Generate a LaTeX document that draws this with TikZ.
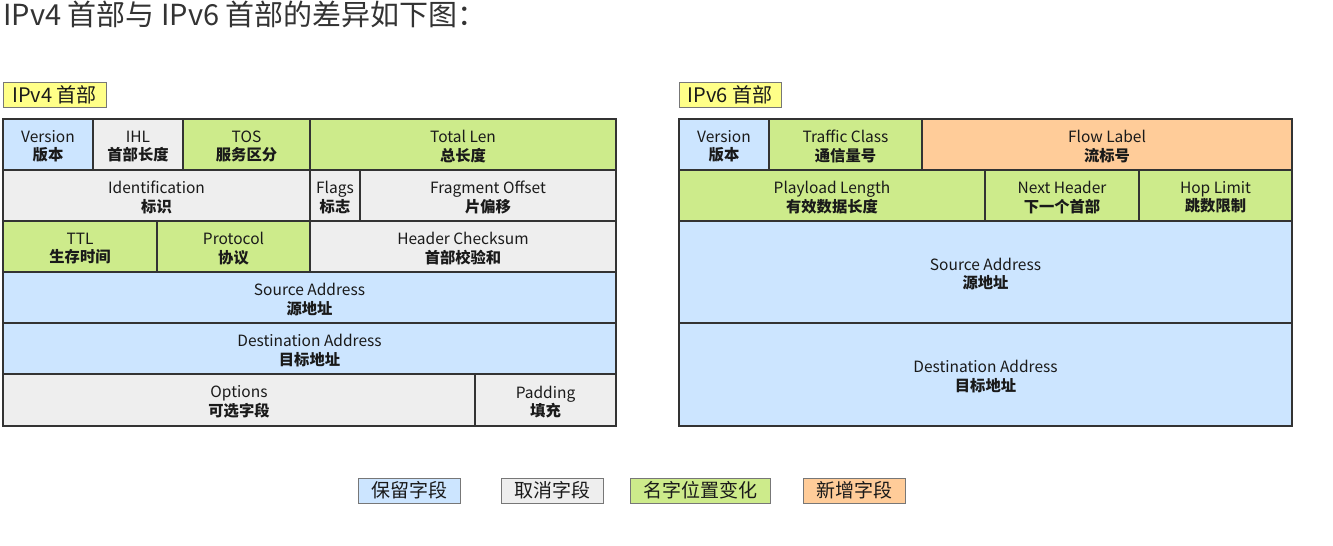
\documentclass[tikz,border=0pt]{standalone}
\usepackage{fontspec}
\setmainfont{Noto Sans CJK SC}
\definecolor{keep}{HTML}{CCE5FF}
\definecolor{drop}{HTML}{EEEEEE}
\definecolor{moved}{HTML}{CDEB8B}
\definecolor{added}{HTML}{FFCC99}
\definecolor{tagfill}{HTML}{FFFF88}
\definecolor{ink}{HTML}{1A1A1A}
\definecolor{edgec}{HTML}{333333}
\definecolor{legc}{HTML}{777777}
\newcommand\fld[8]{%
  \node[fld, fill=#2, minimum width={(#5-#3)*1pt}, minimum height={(#6-#4)*1pt}]
    (#1) at ({(#3+#5)/2},{(#4+#6)/2}) {};
  \node[fldtext] (#1-t) at ([yshift=-2pt]#1.center)
    {{\fontsize{15.5}{18}\selectfont #7}\\{\bfseries #8}};}
\tikzset{
  fld/.style={draw=edgec, line width=1.1pt, inner sep=0pt, outer sep=0pt},
  fldtext/.style={inner sep=0pt, align=center, text=ink,
    font=\fontsize{15.3}{18.5}\selectfont},
  tagbox/.style={draw=legc, line width=1pt, fill=tagfill, inner sep=0pt,
    minimum height=25pt, text=ink, font=\fontsize{20}{20}\selectfont},
  legbox/.style={draw=legc, line width=1pt, inner sep=0pt,
    minimum height=25pt, text=ink, font=\fontsize{19}{19}\selectfont},
}
\begin{document}
\begin{tikzpicture}[x=1pt,y=-1pt]
\useasboundingbox (0,0) rectangle (1333,546);
\node[anchor=west, inner sep=0pt, text=edgec, font=\fontsize{29}{29}\selectfont]
  (title) at (3,14) {IPv4 首部与 IPv6 首部的差异如下图：};

% IPv4
\node[tagbox, minimum width=103pt] (t4) at (54.5,94.5) {IPv4 首部};
\fld{v4ver}{keep}{3}{119}{93}{170}{Version}{版本}
\fld{v4ihl}{drop}{93}{119}{183}{170}{IHL}{首部长度}
\fld{v4tos}{moved}{183}{119}{310}{170}{TOS}{服务区分}
\fld{v4len}{moved}{310}{119}{616}{170}{Total Len}{总长度}
\fld{v4id}{drop}{3}{170}{310}{221}{Identification}{标识}
\fld{v4flg}{drop}{310}{170}{360}{221}{Flags}{标志}
\fld{v4frag}{drop}{360}{170}{616}{221}{Fragment Offset}{片偏移}
\fld{v4ttl}{moved}{3}{221}{157}{272}{TTL}{生存时间}
\fld{v4pro}{moved}{157}{221}{310}{272}{Protocol}{协议}
\fld{v4chk}{drop}{310}{221}{616}{272}{Header Checksum}{首部校验和}
\fld{v4src}{keep}{3}{272}{616}{323}{Source Address}{源地址}
\fld{v4dst}{keep}{3}{323}{616}{374}{Destination Address}{目标地址}
\fld{v4opt}{drop}{3}{374}{475}{426}{Options}{可选字段}
\fld{v4pad}{drop}{475}{374}{616}{426}{Padding}{填充}

% IPv6
\node[tagbox, minimum width=102pt] (t6) at (730,94.5) {IPv6 首部};
\fld{v6ver}{keep}{679}{119}{769}{170}{Version}{版本}
\fld{v6tc}{moved}{769}{119}{922}{170}{Traffic Class}{通信量号}
\fld{v6fl}{added}{922}{119}{1292}{170}{Flow Label}{流标号}
\fld{v6len}{moved}{679}{170}{985}{221}{Playload Length}{有效数据长度}
\fld{v6nh}{moved}{985}{170}{1139}{221}{Next Header}{下一个首部}
\fld{v6hop}{moved}{1139}{170}{1292}{221}{Hop Limit}{跳数限制}
\fld{v6src}{keep}{679}{221}{1292}{323}{Source Address}{源地址}
\fld{v6dst}{keep}{679}{323}{1292}{426}{Destination Address}{目标地址}

% legend
\node[legbox, fill=keep, minimum width=102pt] (lkeep) at (409,490.5) {保留字段};
\node[legbox, fill=drop, minimum width=102pt] (ldrop) at (552,490.5) {取消字段};
\node[legbox, fill=moved, minimum width=140pt] (lmoved) at (700,490.5) {名字位置变化};
\node[legbox, fill=added, minimum width=102pt] (ladded) at (854,490.5) {新增字段};
\end{tikzpicture}
\end{document}
